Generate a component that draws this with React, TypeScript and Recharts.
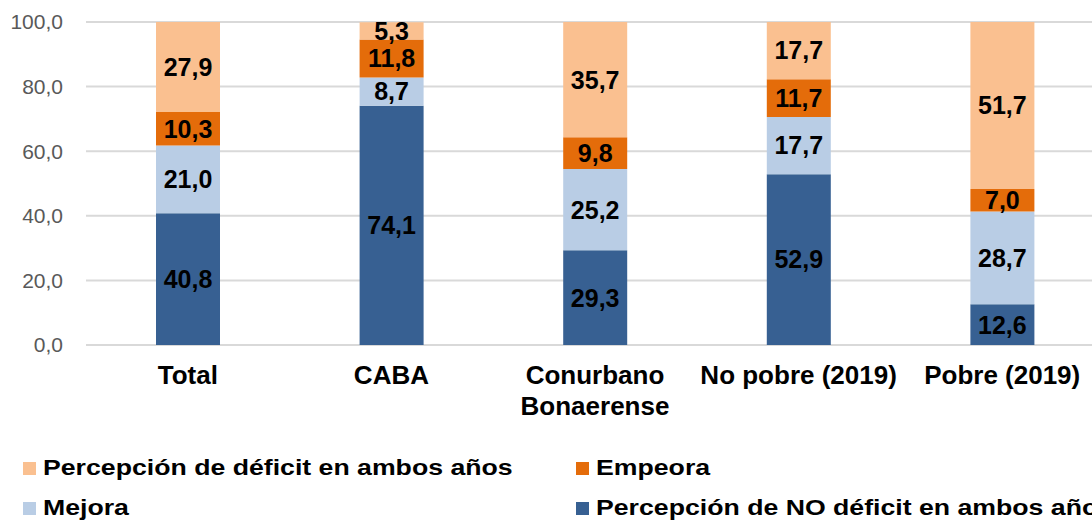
import React from "react";
import { BarChart, Bar, XAxis, YAxis, CartesianGrid, LabelList, Legend } from "recharts";

const categories = ["Total", "CABA", "Conurbano Bonaerense", "No pobre (2019)", "Pobre (2019)"];
const noDeficit = [40.8, 74.1, 29.3, 52.9, 12.6];
const mejora = [21.0, 8.7, 25.2, 17.7, 28.7];
const empeora = [10.3, 11.8, 9.8, 11.7, 7.0];
const deficit = [27.9, 5.3, 35.7, 17.7, 51.7];
const yTicks = [0, 20, 40, 60, 80, 100];

const series = [
  { key: "noDeficit", name: "Percepción de NO déficit en ambos años", color: "#376092" },
  { key: "mejora", name: "Mejora", color: "#B9CDE5" },
  { key: "empeora", name: "Empeora", color: "#E46C0A" },
  { key: "deficit", name: "Percepción de déficit en ambos años", color: "#FAC090" },
];

const data = categories.map((c, i) => ({
  name: c,
  noDeficit: noDeficit[i],
  mejora: mejora[i],
  empeora: empeora[i],
  deficit: deficit[i],
}));

const FONT = "'Liberation Sans', Arial, sans-serif";
const fmt = (v: any) => Number(v).toFixed(1).replace(".", ",");

const CategoryTick = (props: any) => {
  const { x, y, payload } = props;
  const label: string = payload.value;
  const lines = label === "Conurbano Bonaerense" ? ["Conurbano", "Bonaerense"] : [label];
  return (
    <g transform={`translate(${x},${y})`}>
      {lines.map((l, i) => (
        <text
          key={i}
          x={0}
          y={31 + i * 31}
          textAnchor="middle"
          fontFamily={FONT}
          fontSize={26}
          fontWeight="bold"
          fill="#000"
        >
          {l}
        </text>
      ))}
    </g>
  );
};

const legendRows = [
  [series[3], series[2]],
  [series[1], series[0]],
];

const renderLegend = () => (
  <div style={{ position: "relative", width: 1092, height: 73, fontFamily: FONT }}>
    {legendRows.map((row, r) =>
      row.map((s, c) => (
        <div
          key={s.key}
          style={{
            position: "absolute",
            left: c === 0 ? 23 : 576,
            top: r * 40 + 1,
            height: 40,
            display: "flex",
            alignItems: "center",
            whiteSpace: "nowrap",
          }}
        >
          <span style={{ display: "inline-block", width: 13, height: 13, background: s.color, marginRight: 7 }} />
          <span
            style={{
              display: "inline-block",
              fontSize: 21.5,
              fontWeight: "bold",
              color: "#000",
              transform: "scaleX(1.24)",
              transformOrigin: "left center",
            }}
          >
            {s.name}
          </span>
        </div>
      ))
    )}
  </div>
);

export default function App() {
  return (
    <div style={{ position: "fixed", left: 0, top: 0, width: 1092, height: 520, overflow: "hidden", background: "#fff" }}>
      <BarChart
        width={1104}
        height={520}
        data={data}
        margin={{ top: 22, right: 0, bottom: 0, left: 0 }}
        barSize={64}
      >
        <CartesianGrid vertical={false} stroke="#D9D9D9" strokeWidth={2} />
        <XAxis
          dataKey="name"
          axisLine={false}
          tickLine={false}
          height={102}
          interval={0}
          tick={<CategoryTick />}
        />
        <YAxis
          width={86}
          domain={[0, 100]}
          ticks={yTicks}
          tickFormatter={fmt}
          axisLine={false}
          tickLine={false}
          tickSize={0}
          tickMargin={23}
          tick={{ fontFamily: FONT, fontSize: 21, fill: "#595959" }}
        />
        <Legend
          verticalAlign="bottom"
          content={renderLegend}
          wrapperStyle={{ left: 0, bottom: 0, width: 1092, height: 73 }}
        />
        {series.map((s) => (
          <Bar key={s.key} dataKey={s.key} name={s.name} stackId="a" fill={s.color} isAnimationActive={false}>
            <LabelList
              dataKey={s.key}
              position="center"
              formatter={fmt}
              fill="#000"
              fontFamily={FONT}
              fontSize={25}
              fontWeight="bold"
            />
          </Bar>
        ))}
      </BarChart>
    </div>
  );
}
